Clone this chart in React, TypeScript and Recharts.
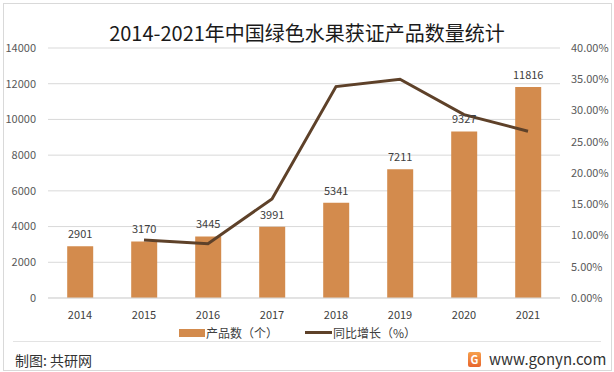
import React from "react";
import {
  ComposedChart,
  Bar,
  Line,
  XAxis,
  YAxis,
  CartesianGrid,
  LabelList,
} from "recharts";

const years = ["2014", "2015", "2016", "2017", "2018", "2019", "2020", "2021"];
const productCounts = [2901, 3170, 3445, 3991, 5341, 7211, 9327, 11816];
const growthRates: (number | null)[] = [null, 9.27, 8.68, 15.85, 33.83, 35.01, 29.34, 26.69];
const leftTicks = [0, 2000, 4000, 6000, 8000, 10000, 12000, 14000];
const rightTicks = [0, 5, 10, 15, 20, 25, 30, 35, 40];

const data = years.map((y, i) => ({
  year: y,
  count: productCounts[i],
  growth: growthRates[i],
}));

const BAR = "#d38b4d";
const LINE = "#5e4129";
const FONT = "'Noto Sans CJK SC', 'Noto Sans', sans-serif";

export default function App() {
  return (
    <div
      style={{
        position: "absolute",
        left: 0,
        top: 0,
        width: 614,
        height: 372,
        background: "#fff",
        fontFamily: FONT,
        overflow: "hidden",
      }}
    >
      <div
        style={{
          position: "absolute",
          left: 3,
          top: 3,
          width: 607,
          height: 366,
          border: "1px solid #d9d9d9",
        }}
      />
      <div
        style={{
          position: "absolute",
          left: 0,
          top: 19,
          width: 614,
          textAlign: "center",
          fontSize: 20,
          lineHeight: "28px",
          color: "#1a1a1a",
        }}
      >
        2014-2021年中国绿色水果获证产品数量统计
      </div>
      <div style={{ position: "absolute", left: 0, top: 0 }}>
        <ComposedChart
          width={614}
          height={372}
          data={data}
          margin={{ top: 48, right: 0, left: 0, bottom: 44 }}
          barCategoryGap="30%"
        >
          <CartesianGrid yAxisId="left" vertical={false} stroke="#d9d9d9" />
          <XAxis
            dataKey="year"
            height={30}
            tickLine={false}
            axisLine={{ stroke: "#d9d9d9" }}
            tickMargin={7}
            tick={{ fontSize: 11, fill: "#404040" }}
            interval={0}
          />
          <YAxis
            yAxisId="left"
            orientation="left"
            width={48}
            domain={[0, 14000]}
            ticks={leftTicks}
            tickLine={false}
            axisLine={false}
            tickMargin={6}
            tick={{ fontSize: 11, fill: "#595959" }}
          />
          <YAxis
            yAxisId="right"
            orientation="right"
            width={54}
            domain={[0, 40]}
            ticks={rightTicks}
            tickLine={false}
            axisLine={false}
            tickMargin={5}
            tickFormatter={(v: number) => v.toFixed(2) + "%"}
            tick={{ fontSize: 11, fill: "#595959" }}
          />
          <Bar yAxisId="left" dataKey="count" fill={BAR} isAnimationActive={false}>
            <LabelList
              dataKey="count"
              position="top"
              offset={8}
              fill="#404040"
              fontSize={11}
            />
          </Bar>
          <Line
            yAxisId="right"
            dataKey="growth"
            stroke={LINE}
            strokeWidth={3}
            dot={false}
            activeDot={false}
            type="linear"
            isAnimationActive={false}
          />
        </ComposedChart>
      </div>
      {/* legend */}
      <div
        style={{
          position: "absolute",
          left: 179,
          top: 329,
          width: 26,
          height: 8,
          background: BAR,
        }}
      />
      <div
        style={{
          position: "absolute",
          left: 206,
          top: 324,
          fontSize: 12,
          lineHeight: "18px",
          color: "#404040",
        }}
      >
        产品数（个）
      </div>
      <div
        style={{
          position: "absolute",
          left: 305,
          top: 331,
          width: 27,
          height: 3,
          background: LINE,
        }}
      />
      <div
        style={{
          position: "absolute",
          left: 333,
          top: 324,
          fontSize: 12,
          lineHeight: "18px",
          color: "#404040",
        }}
      >
        同比增长（%）
      </div>
      {/* footer */}
      <div
        style={{
          position: "absolute",
          left: 13,
          top: 341,
          width: 588,
          height: 1,
          background: "#e3e3e3",
        }}
      />
      <div
        style={{
          position: "absolute",
          left: 15,
          top: 350,
          fontSize: 14,
          lineHeight: "20px",
          color: "#333",
        }}
      >
        制图: 共研网
      </div>
      <div
        style={{
          position: "absolute",
          left: 468,
          top: 352,
          width: 13,
          height: 15,
          borderRadius: 2,
          background: "linear-gradient(#f6a04d, #e8652c)",
          color: "#fff",
          fontSize: 11,
          fontWeight: 700,
          lineHeight: "15px",
          textAlign: "center",
        }}
      >
        G
      </div>
      <div
        style={{
          position: "absolute",
          left: 489,
          top: 349,
          fontSize: 15,
          lineHeight: "20px",
          color: "#333",
        }}
      >
        www.gonyn.com
      </div>
    </div>
  );
}
